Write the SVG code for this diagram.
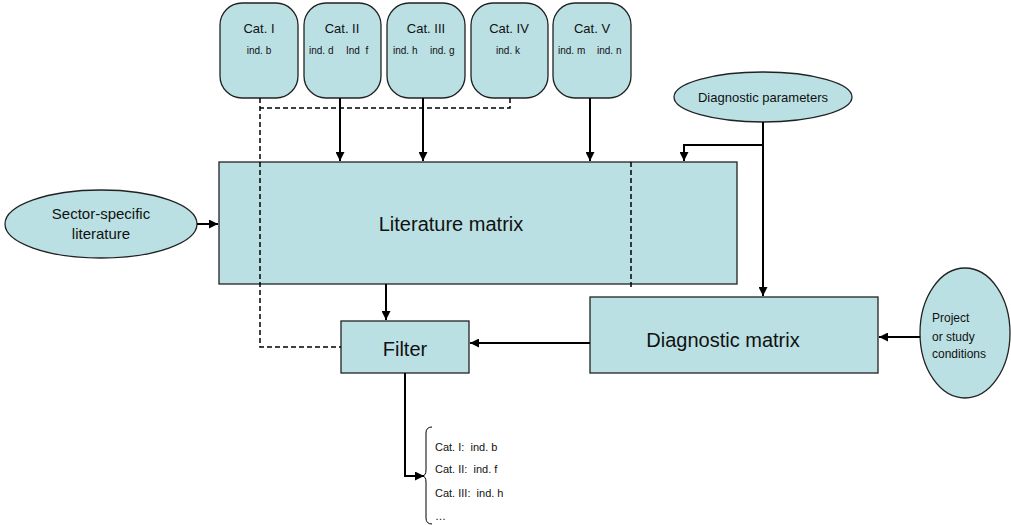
<svg xmlns="http://www.w3.org/2000/svg" width="1011" height="525" viewBox="0 0 1011 525">
<defs>
<marker id="ah" viewBox="0 0 10 10" refX="10" refY="5" markerWidth="9" markerHeight="9" markerUnits="userSpaceOnUse" orient="auto">
<path d="M0,0 L10,5 L0,10 z" fill="#000"/>
</marker>
</defs>
<style>
.n{fill:#BAE0E3;stroke:#222;stroke-width:1.3}
.t{font-family:"Liberation Sans",Arial,sans-serif;fill:#111;white-space:pre}
.c{stroke:#000;stroke-width:2;fill:none}
.d{stroke:#000;stroke-width:1.5;fill:none;stroke-dasharray:5,3}
</style>
<rect width="1011" height="525" fill="#fff"/>
<g id="lit">
<rect class="n" x="219" y="162" width="518" height="122"/>
<text class="t" x="451" y="231" font-size="20" text-anchor="middle">Literature matrix</text>
</g>
<g id="cat1">
<rect class="n" x="220" y="3" width="78" height="95" rx="22"/>
<text class="t" x="259" y="33" font-size="13" text-anchor="middle">Cat. I</text>
<text class="t" x="259" y="54" font-size="10" text-anchor="middle">ind. b</text>
</g>
<g id="cat2">
<rect class="n" x="304" y="3" width="77" height="95" rx="22"/>
<text class="t" x="342" y="33" font-size="13" text-anchor="middle">Cat. II</text>
<text class="t" x="309" y="54" font-size="10">ind. d</text>
<text class="t" x="346" y="54" font-size="10">Ind&#160; f</text>
</g>
<g id="cat3">
<rect class="n" x="387" y="3" width="78" height="95" rx="22"/>
<text class="t" x="426" y="33" font-size="13" text-anchor="middle">Cat. III</text>
<text class="t" x="393" y="54" font-size="10">ind. h</text>
<text class="t" x="430" y="54" font-size="10">ind. g</text>
</g>
<g id="cat4">
<rect class="n" x="471" y="3" width="77" height="95" rx="22"/>
<text class="t" x="509" y="33" font-size="13" text-anchor="middle">Cat. IV</text>
<text class="t" x="508" y="54" font-size="10" text-anchor="middle">ind. k</text>
</g>
<g id="cat5">
<rect class="n" x="553" y="3" width="78" height="95" rx="22"/>
<text class="t" x="592" y="33" font-size="13" text-anchor="middle">Cat. V</text>
<text class="t" x="558" y="54" font-size="10">ind. m</text>
<text class="t" x="597" y="54" font-size="10">ind. n</text>
</g>
<g id="diagparams">
<ellipse class="n" cx="763" cy="97" rx="89" ry="25"/>
<text class="t" x="763" y="102" font-size="13" text-anchor="middle">Diagnostic parameters</text>
</g>
<g id="sector">
<ellipse class="n" cx="101" cy="224" rx="96" ry="34"/>
<text class="t" x="101" y="219" font-size="15" text-anchor="middle">Sector-specific</text>
<text class="t" x="101" y="239" font-size="15" text-anchor="middle">literature</text>
</g>
<g id="diagmatrix">
<rect class="n" x="590" y="297" width="288" height="76"/>
<text class="t" x="723" y="347" font-size="20" text-anchor="middle">Diagnostic matrix</text>
</g>
<g id="project">
<ellipse class="n" cx="965" cy="333" rx="45" ry="65"/>
<text class="t" x="932" y="322" font-size="12">Project</text>
<text class="t" x="932" y="341" font-size="12">or study</text>
<text class="t" x="932" y="358" font-size="12">conditions</text>
</g>
<g id="filter">
<rect class="n" x="341" y="321" width="128" height="52"/>
<text class="t" x="405" y="356" font-size="20" text-anchor="middle">Filter</text>
</g>
<g id="result">
<path d="M432,427 Q426,427 426,433 L426,470 Q426,476 422,476 Q426,476 426,482 L426,518 Q426,524 432,524" fill="none" stroke="#000" stroke-width="1"/>
<text class="t" x="435" y="451" font-size="11">Cat. I:&#160; ind. b</text>
<text class="t" x="435" y="473" font-size="11">Cat. II:&#160; ind. f</text>
<text class="t" x="435" y="497" font-size="11">Cat. III:&#160; ind. h</text>
<text class="t" x="435" y="520" font-size="11">…</text>
</g>
<g id="connectors">
<path class="d" d="M260,98 V347 H341"/>
<path class="d" d="M510,98 V108 H260"/>
<path class="d" d="M631,162 V288"/>
<path class="c" d="M340,98 V161" marker-end="url(#ah)"/>
<path class="c" d="M423,98 V161" marker-end="url(#ah)"/>
<path class="c" d="M590,98 V161" marker-end="url(#ah)"/>
<path class="c" d="M763,122 V296" marker-end="url(#ah)"/>
<path class="c" d="M763,145 H684 V161" marker-end="url(#ah)"/>
<path class="c" d="M197,224 H218" marker-end="url(#ah)"/>
<path class="c" d="M386,284 V320" marker-end="url(#ah)"/>
<path class="c" d="M590,343 H470" marker-end="url(#ah)"/>
<path class="c" d="M920,337 H879" marker-end="url(#ah)"/>
<path class="c" d="M405,373 V476 H424" marker-end="url(#ah)"/>
</g>
</svg>
